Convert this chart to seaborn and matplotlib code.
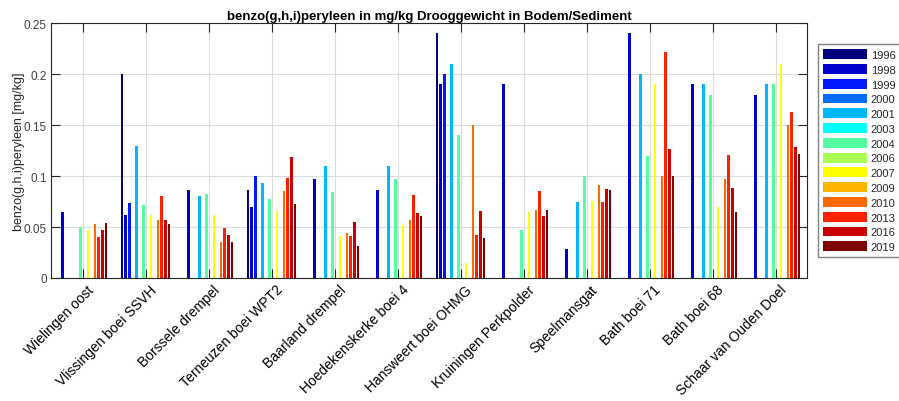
import numpy as np
import pandas as pd
import matplotlib
matplotlib.use("Agg")
import matplotlib.pyplot as plt
import matplotlib.transforms as mtransforms
import seaborn as sns

nan = np.nan

locations = ["Wielingen oost", "Vlissingen boei SSVH", "Borssele drempel",
             "Terneuzen boei WPT2", "Baarland drempel", "Hoedekenskerke boei 4",
             "Hansweert boei OHMG", "Kruiningen Perkpolder", "Speelmansgat",
             "Bath boei 71", "Bath boei 68", "Schaar van Ouden Doel"]

years = ["1996", "1998", "1999", "2000", "2001", "2003", "2004",
         "2006", "2007", "2009", "2010", "2013", "2016", "2019"]

y1996 = [nan, 0.200, nan, 0.086, nan, nan, 0.240, nan, nan, nan, nan, nan]
y1998 = [0.065, 0.062, 0.086, 0.070, 0.097, 0.086, 0.190, 0.190, 0.028, 0.240, 0.190, 0.180]
y1999 = [nan, 0.074, nan, 0.100, nan, nan, 0.200, nan, nan, nan, nan, nan]
y2000 = [nan] * 12
y2001 = [nan, 0.130, 0.080, 0.093, 0.110, 0.110, 0.210, nan, 0.075, 0.200, 0.190, 0.190]
y2003 = [nan] * 12
y2004 = [0.050, 0.072, 0.082, 0.078, 0.084, 0.097, 0.140, 0.047, 0.100, 0.120, 0.180, 0.190]
y2006 = [nan] * 12
y2007 = [0.047, 0.062, 0.062, 0.066, 0.041, 0.052, 0.015, 0.065, 0.076, 0.190, 0.070, 0.210]
y2009 = [nan] * 12
y2010 = [0.053, 0.057, 0.035, 0.085, 0.044, 0.057, 0.150, 0.067, 0.091, 0.100, 0.097, 0.150]
y2013 = [0.040, 0.080, 0.049, 0.098, 0.041, 0.081, 0.042, 0.085, 0.075, 0.222, 0.121, 0.163]
y2016 = [0.047, 0.057, 0.042, 0.119, 0.055, 0.064, 0.066, 0.061, 0.087, 0.127, 0.088, 0.129]
y2019 = [0.054, 0.053, 0.035, 0.073, 0.031, 0.061, 0.039, 0.067, 0.086, 0.100, 0.065, 0.122]

series = [y1996, y1998, y1999, y2000, y2001, y2003, y2004,
          y2006, y2007, y2009, y2010, y2013, y2016, y2019]

colors = ["#000080", "#0000CC", "#0019FF", "#006CFF", "#00B8FF", "#00FFFF", "#55FFA0",
          "#AAFF55", "#FFFF00", "#FFB400", "#FF6A00", "#FF2000", "#C80000", "#800000"]

rows = []
for yr, vals in zip(years, series):
    for loc, v in zip(locations, vals):
        if not np.isnan(v):
            rows.append({"locatie": loc, "jaar": yr, "waarde": v})
df = pd.DataFrame(rows)

sns.set_theme(style="white")
plt.rcParams["font.family"] = ["Liberation Sans", "DejaVu Sans"]

fig = plt.figure(figsize=(8.99, 4.02), dpi=100)
ax = fig.add_axes([51 / 899, 1 - 279 / 402, (807 - 51) / 899, (279 - 24.3) / 402])

sns.barplot(data=df, x="locatie", y="waarde", hue="jaar", order=locations,
            hue_order=years, palette=dict(zip(years, colors)), errorbar=None,
            width=0.8, gap=0.25, linewidth=0, saturation=1, ax=ax)

ax.set_xlim(-0.5, len(locations) - 0.5)
ax.set_ylim(0, 0.25)
ax.set_yticks([0, 0.05, 0.1, 0.15, 0.2, 0.25])
ax.set_yticklabels(["0", "0.05", "0.1", "0.15", "0.2", "0.25"])
ax.grid(True, color="#DCDCDC", linewidth=0.8)
ax.set_axisbelow(True)

for s in ax.spines.values():
    s.set_color("#262626")
    s.set_linewidth(0.8)

ax.tick_params(axis="both", direction="in", length=6.5, width=0.8, color="#262626",
               top=True, right=True, bottom=True, left=True)
ax.tick_params(axis="y", labelsize=8.5, labelcolor="#404040", pad=3)
ax.tick_params(axis="x", labelsize=10, labelcolor="#000000", pad=3)

offset = mtransforms.ScaledTranslation(4 / 100, 0, fig.dpi_scale_trans)
for lbl in ax.get_xticklabels():
    lbl.set_rotation(45)
    lbl.set_ha("right")
    lbl.set_va("top")
    lbl.set_rotation_mode("anchor")
    lbl.set_transform(lbl.get_transform() + offset)

ax.set_xlabel("")
ax.set_ylabel("benzo(g,h,i)peryleen [mg/kg]", fontsize=9, color="#262626", labelpad=-1)
ax.set_title("benzo(g,h,i)peryleen in mg/kg Drooggewicht in Bodem/Sediment",
             fontsize=9.5, fontweight="bold", color="#000000", pad=3)

sns.move_legend(ax, "center left", bbox_to_anchor=(1.0146, 0.5), title=None,
                fontsize=8, frameon=True, fancybox=False, framealpha=1,
                edgecolor="#808080", borderaxespad=0, handlelength=4.0,
                handleheight=1.0, handletextpad=0.3, labelspacing=0.36,
                borderpad=0.45)
leg = ax.get_legend()
leg.get_frame().set_linewidth(1.0)

fig.savefig("out.png", dpi=100)
